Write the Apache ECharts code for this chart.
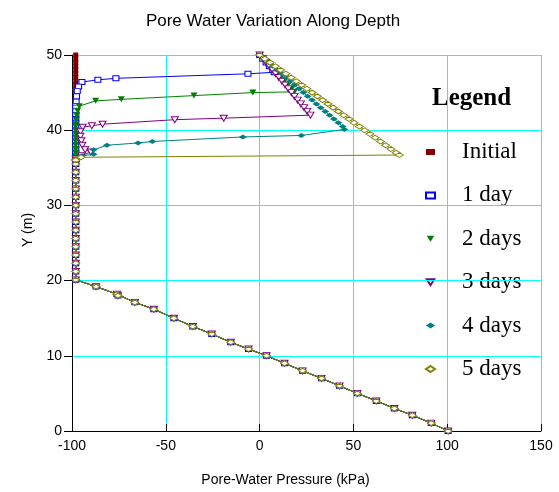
<!DOCTYPE html>
<html>
<head>
<meta charset="utf-8">
<script src="https://cdn.jsdelivr.net/npm/echarts@6/dist/echarts.min.js"></script>
<style>html,body{margin:0;padding:0;background:#fff}#chart{width:559px;height:492px}</style>
</head>
<body>
<div id="chart"></div>
<script>
// X ticks / Y ticks
const xTicks = [-100, -50, 0, 50, 100, 150];
const yTicks = [0, 10, 20, 30, 40, 50];
const seriesNames = ['Initial', '1 day', '2 days', '3 days', '4 days', '5 days'];

// [pressure kPa, Y m] -- unsaturated upper zone, initial state
const initialTop = [[-98,50],[-98,49.5],[-98,49],[-98,48.5],[-98,48],[-98,47.5],[-98,47],[-98,46.5],[-98,46],[-98,45.5],[-98,45],[-98,44.5],[-98,44],[-98,43.5],[-98,43],[-98,42.5],[-98,42],[-98,41.5],[-98,41],[-98,40.5],[-98,40],[-98,39.5],[-98,39],[-98,38.5],[-98,38],[-98,37.5],[-98,37],[-98,36.5],[-98,36]];

// common lower profile (identical for all times)
const baseProfile = [[-98,35.5],[-98,34.4],[-98,33.3],[-98,32.2],[-98,31.1],[-98,30],[-98,28.9],[-98,27.8],[-98,26.7],[-98,25.6],[-98,24.5],[-98,23.4],[-98,22.3],[-98,21.2],[-98,20.1],[-87.2,19.2],[-76.1,18.2],[-75.5,18.0],[-66.5,17.1],[-56.4,16.2],[-45.7,15.0],[-35.6,13.9],[-25.5,12.9],[-15.4,11.8],[-5.9,10.9],[3.7,10.0],[13.3,9.0],[22.9,8.0],[33,7.0],[42.6,6.0],[52.1,5.0],[62.2,4.0],[71.8,3.0],[81.4,2.1],[91.5,1.05],[100.5,0]];

const day1Top = [[0,50],[1.7,49.5],[3.5,49],[5.2,48.5],[7.0,48],[7.8,47.7],[-6.2,47.5],[-76.6,46.9],[-86.2,46.7],[-94.7,46.4],[-96.5,45.8],[-97.2,45.2],[-97.6,44.5],[-97.8,43.8],[-98,43.2]];
const day2Top = [[0,50],[1.9,49.5],[3.8,49],[5.7,48.5],[7.6,48],[9.5,47.5],[11.4,47],[13.3,46.5],[15.2,46],[17.1,45.5],[18.6,45.1],[-3.6,45.0],[-35,44.6],[-73.7,44.1],[-87.4,43.9],[-96.1,43.2],[-97,42.6],[-97.5,42],[-97.8,41.4],[-98,40.8]];
const day3Top = [[0,50],[1.7,49.5],[3.4,49],[5.1,48.5],[6.8,48],[8.5,47.5],[10.2,47],[11.9,46.5],[13.6,46],[15.3,45.5],[17.0,45],[18.6,44.5],[20.3,44],[22.0,43.5],[23.7,43],[25.4,42.5],[27.1,42.0],[-19.1,41.6],[-45.2,41.4],[-83.7,40.8],[-89.4,40.6],[-94.3,40.4],[-95.5,39.8],[-95.5,39.2],[-95,38.6],[-94.5,38.0],[-93,37.4],[-90,37.1],[-95,36.6],[-98,36.2]];
const day4Top = [[0,50],[2.3,49.5],[4.7,49],[7.0,48.5],[9.3,48],[11.7,47.5],[14.0,47],[16.3,46.5],[18.6,46],[21.0,45.5],[23.3,45],[25.6,44.5],[28.0,44],[30.3,43.5],[32.6,43],[35.0,42.5],[37.3,42],[39.6,41.5],[42.0,41],[44.3,40.5],[45.2,40.1],[22.2,39.3],[-8.9,39.1],[-57.2,38.5],[-64.8,38.3],[-81.4,38.0],[-88.5,37.4],[-88.5,36.8],[-94.7,36.6],[-98,36.2]];
const day5Top = [[0,50],[2.8,49.5],[5.6,49],[8.4,48.5],[11.2,48],[14.0,47.5],[16.8,47],[19.6,46.5],[22.4,46],[25.2,45.5],[28.0,45],[30.8,44.5],[33.6,44],[36.4,43.5],[39.2,43],[42.0,42.5],[44.8,42],[47.6,41.5],[50.4,41],[53.2,40.5],[56.0,40],[58.8,39.5],[61.6,39],[64.4,38.5],[67.2,38],[70.0,37.5],[72.8,37],[74.5,36.7],[-95.2,36.4],[-98,36.1]];

const colors = ['#800000', '#0000ff', '#008000', '#800080', '#008080', '#808000'];
const triDown = 'path://M0,0L10,0L5,8Z';

function below(top) {
  const last = top[top.length - 1][1];
  return top.concat(initialTop.filter(p => p[1] < last)).concat(baseProfile);
}
const profiles = [
  initialTop.concat(baseProfile),
  below(day1Top), below(day2Top), below(day3Top), below(day4Top), below(day5Top)
];
const symbols = ['rect', 'rect', triDown, triDown, 'diamond', 'diamond'];
const filled = [true, false, true, false, true, false];
const sizes = [[5,5],[6,5],[7,6],[7,6],[8,5],[8,5]];

const chart = echarts.init(document.getElementById('chart'));
const series = seriesNames.map((n, i) => ({
  name: n,
  type: 'line',
  data: profiles[i],
  symbol: symbols[i],
  symbolSize: sizes[i],
  showAllSymbol: true,
  animation: false,
  lineStyle: { color: colors[i], width: 1 },
  itemStyle: filled[i] ? { color: colors[i], borderWidth: 0 } : { color: '#ffffff', borderColor: colors[i], borderWidth: 1 },
  emphasis: { disabled: true },
  z: 2 + i
}));

const gridLine = { show: true, showMinLine: true, showMaxLine: true, lineStyle: { color: ['#00ffff'], width: 1, opacity: 1, type: 'solid' } };

chart.setOption({
  animation: false,
  backgroundColor: '#fff',
  title: [
    { text: 'Pore Water Variation Along Depth', left: 268, top: 8, textAlign: 'center',
      textStyle: { fontFamily: 'Liberation Sans', fontSize: 17, fontWeight: 'normal', color: '#000' } },
    { text: 'Legend', left: 427, top: 81, z: 0,
      textStyle: { fontFamily: 'Liberation Serif', fontSize: 25, fontWeight: 'bold', color: '#000' } }
  ],
  legend: {
    orient: 'vertical',
    left: 425,
    top: 140,
    padding: 0,
    z: 0,
    itemGap: 19.4,
    itemWidth: 9,
    itemHeight: 6,
    data: seriesNames.map((n, i) => ({ name: n, icon: symbols[i] })),
    textStyle: { fontFamily: 'Liberation Serif', fontSize: 23, color: '#000', lineHeight: 24, padding: [0, 0, 0, 22] },
    selectedMode: false
  },
  grid: { left: 72, right: 18, top: 55, bottom: 57, containLabel: false },
  xAxis: {
    type: 'value', min: xTicks[0], max: xTicks[xTicks.length - 1], interval: 50, z: 1,
    name: 'Pore-Water Pressure (kPa)', nameLocation: 'middle', nameGap: 42,
    nameTextStyle: { fontFamily: 'Liberation Sans', fontSize: 14, color: '#000', padding: [0, 42, 0, 0] },
    axisLine: { show: true, onZero: false, lineStyle: { color: '#000', width: 1 } },
    axisTick: { show: true, inside: true, length: 7, lineStyle: { color: '#000' } },
    axisLabel: { fontFamily: 'Liberation Sans', fontSize: 14, color: '#000', margin: 8 },
    splitLine: gridLine
  },
  yAxis: {
    type: 'value', min: yTicks[0], max: yTicks[yTicks.length - 1], interval: 10, z: 1,
    name: 'Y (m)', nameLocation: 'middle', nameGap: 34,
    nameTextStyle: { fontFamily: 'Liberation Sans', fontSize: 14, color: '#000', padding: [0, 0, 0, 26] },
    axisLine: { show: true, onZero: false, lineStyle: { color: '#000', width: 1 } },
    axisTick: { show: true, inside: false, length: 8, lineStyle: { color: '#000' } },
    axisLabel: { fontFamily: 'Liberation Sans', fontSize: 14, color: '#000', margin: 10 },
    splitLine: gridLine
  },
  series: series
});
</script>
</body>
</html>
